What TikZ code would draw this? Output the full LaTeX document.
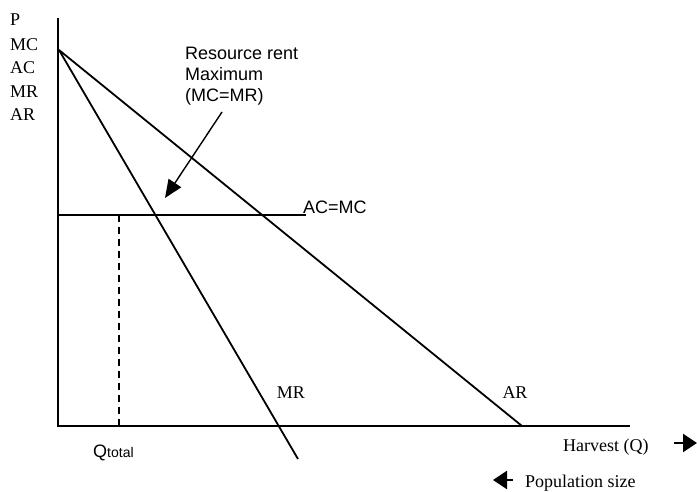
\documentclass[tikz,border=0pt]{standalone}
\usepackage{fontspec}
\setmainfont{Liberation Serif}
\setsansfont{Liberation Sans}
\usetikzlibrary{arrows.meta}
\begin{document}
\begin{tikzpicture}[x=1pt,y=-1pt,
  axis/.style={line width=2.6pt},
  curve/.style={line width=1.8pt},
  thin line/.style={line width=1.4pt},
  serif label/.style={font=\fontsize{18}{20}\selectfont, inner sep=0pt},
  sans label/.style={font=\sffamily\fontsize{18}{21}\selectfont, inner sep=0pt},
  pointer/.style={line width=1.4pt, -{Triangle[length=18pt,width=15pt]}},
  dir arrow/.style={line width=2pt, -{Triangle[length=14pt,width=18pt]}}]
  \useasboundingbox (0,0) rectangle (697,492);

  % axes
  \coordinate (ytop) at (58,18);
  \coordinate (O) at (58,426);
  \coordinate (xend) at (630,426);
  \draw[axis] (ytop) -- (O) -- (xend);

  % demand (AR) and marginal revenue (MR) lines from the common intercept
  \coordinate (apex) at (59,50);
  \coordinate (arend) at (522,426);
  \coordinate (mrend) at (298,459);
  \draw[curve] (apex) -- (arend);
  \draw[curve] (apex) -- (mrend);

  % cost line and optimal harvest
  \coordinate (acstart) at (58,215);
  \coordinate (acend) at (306,215);
  \draw[thin line] (acstart) -- (acend);
  \node[sans label, anchor=base west] (acmc) at (303,214) {AC=MC};
  \coordinate (qtop) at (119,215);
  \coordinate (qbot) at (119,426);
  \draw[thin line, dashed, dash pattern=on 7pt off 5pt] (qtop) -- (qbot);

  % vertical axis labels
  \node[serif label, anchor=west] (lp)  at (10,20)  {P};
  \node[serif label, anchor=west] (lmc) at (10,45)  {MC};
  \node[serif label, anchor=west] (lac) at (10,68)  {AC};
  \node[serif label, anchor=west] (lmr) at (10,92)  {MR};
  \node[serif label, anchor=west] (lar) at (10,115) {AR};

  % curve labels
  \node[serif label] (mrlab) at (291,393) {MR};
  \node[serif label] (arlab) at (515,393) {AR};

  % annotation for the rent maximum
  \node[sans label, anchor=north west, align=left] (rent) at (185,47)
    {Resource rent\\Maximum\\(MC=MR)};
  \coordinate (tip) at (165,198);
  \draw[pointer] (222,112) -- (tip);

  % horizontal axis labels
  \node[inner sep=0pt, anchor=base west] (qtotal) at (93,457)
    {\sffamily\fontsize{18}{20}\selectfont Q\fontsize{14}{16}\selectfont total};
  \node[serif label, anchor=west] (harvest) at (563,447) {Harvest (Q)};
  \coordinate (h1) at (674,443);
  \coordinate (h2) at (697,443);
  \draw[dir arrow] (h1) -- (h2);
  \node[serif label, anchor=west] (pop) at (525,483) {Population size};
  \coordinate (p1) at (513,480);
  \coordinate (p2) at (493,480);
  \draw[dir arrow] (p1) -- (p2);
\end{tikzpicture}
\end{document}
